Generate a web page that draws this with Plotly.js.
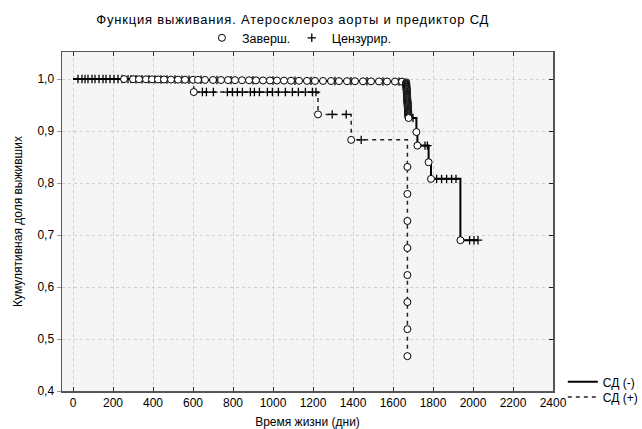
<!DOCTYPE html>
<html>
<head>
<meta charset="utf-8">
<script src="https://cdn.plot.ly/plotly-3.0.1.min.js"></script>
<style>
  html, body { margin: 0; padding: 0; background: #ffffff; }
  #chart { width: 642px; height: 429px; }
  #chart .gtitle { letter-spacing: 0.8px; }
</style>
</head>
<body>
<div id="chart"></div>
<script>
// Kaplan–Meier survival: aortic atherosclerosis, split by diabetes (СД)

// Group СД (-): event times (days) and survival after each event
const eventDaysNeg = [255, 300, 330, 365, 395, 425, 455, 490, 525, 560,
  600, 625, 660, 700, 740, 775, 810, 845, 880, 915,
  950, 985, 1020, 1055, 1090, 1130, 1170, 1210, 1250, 1290,
  1330, 1370, 1410, 1450, 1490, 1530, 1570, 1610, 1645,
  1666, 1666, 1666, 1666, 1667, 1667, 1667, 1667, 1668, 1668,
  1668, 1668, 1669, 1669, 1669, 1669, 1670, 1670, 1670, 1670,
  1671, 1671, 1671, 1671, 1672, 1672, 1672, 1672, 1673, 1673,
  1673, 1673, 1674, 1674, 1674, 1674, 1675, 1675, 1675, 1675,
  1676, 1676, 1676, 1676, 1677, 1677, 1677, 1677, 1678, 1678,
  1717, 1722, 1778, 1790, 1937];
const survivalNeg = [0.9999, 0.9997, 0.9996, 0.9995, 0.9994, 0.9992, 0.9991, 0.9990, 0.9988, 0.9987,
  0.9986, 0.9985, 0.9983, 0.9982, 0.9981, 0.9980, 0.9978, 0.9977, 0.9976, 0.9974,
  0.9973, 0.9972, 0.9971, 0.9969, 0.9968, 0.9967, 0.9965, 0.9964, 0.9963, 0.9962,
  0.9960, 0.9959, 0.9958, 0.9956, 0.9955, 0.9954, 0.9953, 0.9951, 0.9950,
  0.9936, 0.9922, 0.9908, 0.9894, 0.9880, 0.9866, 0.9852, 0.9838, 0.9824, 0.9810,
  0.9796, 0.9782, 0.9768, 0.9754, 0.9740, 0.9726, 0.9712, 0.9698, 0.9684, 0.9670,
  0.9656, 0.9642, 0.9628, 0.9614, 0.9600, 0.9586, 0.9572, 0.9558, 0.9544, 0.9530,
  0.9516, 0.9502, 0.9488, 0.9474, 0.9460, 0.9446, 0.9432, 0.9418, 0.9404, 0.9390,
  0.9376, 0.9362, 0.9348, 0.9334, 0.9320, 0.9306, 0.9292, 0.9278, 0.9264, 0.9250,
  0.898, 0.872, 0.840, 0.808, 0.690];
// Group СД (-): censored times (days)
const censoredDaysNeg = [25, 45, 60, 75, 95, 110, 130, 150, 165, 185,
  205, 225, 245, 275, 290, 315, 345, 380, 410, 440,
  470, 510, 545, 580, 640, 720, 790, 900, 1000, 1110,
  1190, 1310, 1390, 1470, 1550, 1630, 1700, 1760, 1772,
  1818, 1843, 1868, 1893, 1915, 1983, 2005, 2025];

// Group СД (+): event times (days) and survival after each event
const eventDaysPos = [604, 1225, 1391, 1672, 1672, 1672, 1672, 1672, 1672, 1672, 1672];
const survivalPos = [0.975, 0.932, 0.883, 0.831, 0.779, 0.727, 0.675, 0.623, 0.571, 0.519, 0.467];
// Group СД (+): censored times (days)
const censoredDaysPos = [647, 667, 702, 772, 797, 822, 847, 887, 907, 932,
  972, 997, 1027, 1062, 1097, 1127, 1162, 1197, 1215, 1296, 1366, 1441];

// Axis ticks
const xTicks = [0, 200, 400, 600, 800, 1000, 1200, 1400, 1600, 1800, 2000, 2200, 2400];
const yTicks = [0.4, 0.5, 0.6, 0.7, 0.8, 0.9, 1.0];

// Survival value at time t (step function, right-continuous)
function survivalAt(days, surv, t) {
  let s = 1;
  for (let i = 0; i < days.length; i++) {
    if (days[i] <= t) s = surv[i]; else break;
  }
  return s;
}

// Step path: start at (0, 1), one point per event, extend to the last follow-up
function stepPath(days, surv, cens) {
  const xs = [0], ys = [1];
  for (let i = 0; i < days.length; i++) { xs.push(days[i]); ys.push(surv[i]); }
  const lastCens = cens.length ? Math.max.apply(null, cens) : 0;
  const lastEvt = days[days.length - 1];
  if (lastCens > lastEvt) { xs.push(lastCens); ys.push(surv[surv.length - 1]); }
  return {x: xs, y: ys};
}

const pathNeg = stepPath(eventDaysNeg, survivalNeg, censoredDaysNeg);
const pathPos = stepPath(eventDaysPos, survivalPos, censoredDaysPos);

const FAMILY = 'Liberation Sans, Arial, sans-serif';
const txtFont = {family: FAMILY, size: 12, color: '#000'};
const legFont = {family: FAMILY, size: 12.5, color: '#000'};

const circleMarker = {symbol: 'circle', size: 7, color: '#ffffff', line: {color: '#000000', width: 1}};
const crossMarker = {symbol: 'cross-thin', size: 6, color: '#000000', line: {color: '#000000', width: 1.3}};

const traces = [
  {
    x: pathPos.x, y: pathPos.y, type: 'scatter', mode: 'lines',
    line: {shape: 'hv', color: '#222', width: 1.5, dash: '4px,4px'},
    name: 'СД (+)', legend: 'legend3', hoverinfo: 'skip'
  },
  {
    x: pathNeg.x, y: pathNeg.y, type: 'scatter', mode: 'lines',
    line: {shape: 'hv', color: '#000', width: 2},
    name: 'СД (-)', legend: 'legend2', hoverinfo: 'skip'
  },
  {
    x: censoredDaysPos,
    y: censoredDaysPos.map(t => survivalAt(eventDaysPos, survivalPos, t)),
    type: 'scatter', mode: 'markers', marker: crossMarker, showlegend: false
  },
  {
    x: censoredDaysNeg,
    y: censoredDaysNeg.map(t => survivalAt(eventDaysNeg, survivalNeg, t)),
    type: 'scatter', mode: 'markers', marker: crossMarker,
    name: 'Цензурир.', legend: 'legend4'
  },
  {
    x: eventDaysPos, y: survivalPos, type: 'scatter', mode: 'markers',
    marker: circleMarker, showlegend: false
  },
  {
    x: eventDaysNeg, y: survivalNeg, type: 'scatter', mode: 'markers',
    marker: circleMarker, name: 'Заверш.', legend: 'legend'
  },
  // empty trace on the overlay axis so its right-hand ticks are drawn
  {x: [null], y: [null], yaxis: 'y2', type: 'scatter', mode: 'markers', showlegend: false, hoverinfo: 'skip'}
];

const layout = {
  width: 642, height: 429,
  margin: {l: 62, r: 89, t: 52, b: 38, autoexpand: false},
  paper_bgcolor: '#ffffff',
  plot_bgcolor: '#f5f5f5',
  separators: ', ',
  font: txtFont,
  showlegend: true,
  title: {
    text: 'Функция выживания. Атеросклероз аорты и предиктор СД',
    font: {family: FAMILY, size: 13, color: '#000'},
    x: 0.456, xanchor: 'center', y: 0.955, yanchor: 'middle'
  },
  xaxis: {
    range: [-55, 2400],
    tickvals: xTicks,
    ticktext: xTicks.map(String),
    ticks: 'inside', ticklen: 4, tickcolor: '#333',
    showgrid: true, gridcolor: '#cfcfcf', griddash: 'dot', gridwidth: 1,
    zeroline: false,
    showline: true, linecolor: '#555', linewidth: 1.5, mirror: 'ticks',
    tickfont: txtFont,
    title: {text: 'Время жизни (дни)', font: txtFont, standoff: 8}
  },
  yaxis: {
    range: [0.4, 1.052],
    tickvals: yTicks,
    tickformat: '.1f',
    ticks: 'outside', ticklen: 4, tickcolor: '#999',
    showgrid: true, gridcolor: '#cfcfcf', griddash: 'dot', gridwidth: 1,
    zeroline: false,
    showline: true, linecolor: '#555', linewidth: 1.5, mirror: true,
    tickfont: txtFont,
    title: {text: 'Кумулятивная доля выживших', font: txtFont, standoff: 12}
  },
  yaxis2: {
    overlaying: 'y', side: 'right', matches: 'y',
    tickvals: yTicks, ticks: 'inside', ticklen: 4, tickcolor: '#222',
    showticklabels: false, showgrid: false, zeroline: false, showline: false
  },
  // top key: event and censoring symbols
  legend: {
    orientation: 'h', x: 0.285, xanchor: 'left', y: 1.085, yanchor: 'top',
    bgcolor: 'rgba(0,0,0,0)', font: legFont, itemwidth: 30
  },
  legend4: {
    orientation: 'h', x: 0.468, xanchor: 'left', y: 1.085, yanchor: 'top',
    bgcolor: 'rgba(0,0,0,0)', font: legFont, itemwidth: 30
  },
  // bottom-right key: line styles per group
  legend2: {
    orientation: 'v', x: 1.02, xanchor: 'left', y: 0.027, yanchor: 'middle',
    bgcolor: 'rgba(0,0,0,0)', font: txtFont, itemwidth: 30
  },
  legend3: {
    orientation: 'v', x: 1.02, xanchor: 'left', y: -0.018, yanchor: 'middle',
    bgcolor: 'rgba(0,0,0,0)', font: txtFont, itemwidth: 30
  }
};

Plotly.newPlot('chart', traces, layout, {staticPlot: true, displayModeBar: false});
</script>
</body>
</html>
